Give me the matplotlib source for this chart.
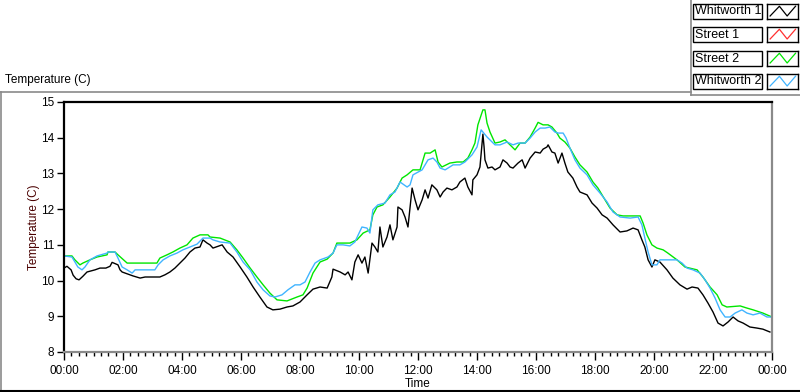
import matplotlib
matplotlib.use("Agg")
import matplotlib.pyplot as plt
from matplotlib.lines import Line2D
from matplotlib.patches import Rectangle
from matplotlib.ticker import MultipleLocator, FuncFormatter

plt.rcParams['font.family'] = ['Liberation Sans', 'DejaVu Sans']

# time in hours since midnight, temperature in C
whitworth1_t = [0.00, 0.10, 0.24, 0.31, 0.41, 0.51, 0.64, 0.78, 1.05, 1.22, 1.42, 1.56, 1.63, 1.83, 1.90,
                1.97, 2.17, 2.34, 2.58, 2.75, 3.08, 3.25, 3.42, 3.59, 3.76, 3.93, 4.10, 4.27, 4.44, 4.61,
                4.71, 4.85, 4.95, 5.05, 5.36, 5.53, 5.73, 5.97, 6.20, 6.41, 6.64, 6.88, 7.08, 7.32, 7.56,
                7.76, 8.00, 8.24, 8.44, 8.68, 8.92, 9.08, 9.12, 9.36, 9.53, 9.63, 9.76, 9.86, 9.97, 10.10,
                10.20, 10.31, 10.44, 10.54, 10.64, 10.71, 10.81, 10.95, 11.05, 11.15, 11.29, 11.32, 11.46,
                11.56, 11.66, 11.80, 11.90, 12.00, 12.14, 12.24, 12.34, 12.47, 12.64, 12.75, 12.85, 12.98,
                13.15, 13.32, 13.42, 13.59, 13.69, 13.83, 13.86, 14.00, 14.10, 14.20, 14.24, 14.27, 14.37,
                14.51, 14.61, 14.78, 14.88, 15.02, 15.12, 15.22, 15.39, 15.53, 15.63, 15.80, 15.97, 16.14,
                16.24, 16.37, 16.41, 16.54, 16.64, 16.75, 16.88, 16.98, 17.08, 17.25, 17.39, 17.49, 17.73,
                17.90, 18.07, 18.24, 18.41, 18.61, 18.85, 19.08, 19.29, 19.46, 19.59, 19.69, 19.80, 19.93,
                20.03, 20.20, 20.44, 20.64, 20.88, 21.12, 21.29, 21.49, 21.66, 21.83, 22.00, 22.17, 22.34,
                22.51, 22.68, 22.85, 23.02, 23.25, 23.49, 23.69, 23.93]
whitworth1_v = [10.35, 10.40, 10.30, 10.15, 10.05, 10.02, 10.12, 10.24, 10.30, 10.35, 10.35, 10.40, 10.51, 10.44, 10.30,
                10.24, 10.18, 10.13, 10.07, 10.10, 10.10, 10.10, 10.16, 10.24, 10.35, 10.49, 10.63, 10.80, 10.91, 10.94,
                11.14, 11.05, 11.00, 10.91, 11.00, 10.80, 10.66, 10.38, 10.10, 9.82, 9.54, 9.26, 9.18, 9.20, 9.26,
                9.29, 9.40, 9.60, 9.76, 9.82, 9.79, 10.10, 10.32, 10.24, 10.16, 10.24, 10.02, 10.52, 10.72, 10.49,
                10.66, 10.21, 11.05, 10.94, 10.80, 11.50, 10.94, 11.22, 11.56, 11.14, 11.50, 12.06, 11.98,
                11.78, 11.50, 12.59, 12.26, 11.98, 12.26, 12.54, 12.31, 12.68, 12.54, 12.34, 12.48, 12.59,
                12.54, 12.62, 12.76, 12.87, 12.62, 12.40, 12.82, 12.96, 13.18, 14.10, 13.74, 13.38, 13.15,
                13.18, 13.10, 13.18, 13.38, 13.29, 13.18, 13.15, 13.29, 13.38, 13.15, 13.43, 13.60, 13.57,
                13.68, 13.74, 13.80, 13.60, 13.57, 13.29, 13.57, 13.29, 13.04, 12.87, 12.62, 12.48, 12.40,
                12.17, 12.03, 11.84, 11.75, 11.56, 11.36, 11.39, 11.47, 11.42, 11.14, 10.94, 10.58, 10.38,
                10.58, 10.52, 10.30, 10.07, 9.88, 9.76, 9.82, 9.79, 9.60, 9.37, 9.12, 8.81, 8.73,
                8.84, 8.98, 8.87, 8.81, 8.70, 8.67, 8.64, 8.56]

street1_t = []
street1_v = []

street2_t = [0.00, 0.27, 0.37, 0.54, 0.64, 0.88, 1.12, 1.46, 1.49, 1.73, 1.83, 2.14, 3.15, 3.25, 3.49, 3.69,
             3.93, 4.17, 4.37, 4.61, 4.88, 4.95, 5.29, 5.63, 5.86, 6.07, 6.31, 6.54, 6.75, 6.98, 7.22,
             7.56, 7.90, 8.10, 8.24, 8.44, 8.68, 8.92, 9.12, 9.25, 9.46, 9.69, 9.93, 10.14, 10.37, 10.47,
             10.61, 10.81, 11.05, 11.29, 11.46, 11.63, 11.83, 12.07, 12.24, 12.41, 12.58, 12.68, 12.81,
             13.08, 13.32, 13.53, 13.69, 13.83, 13.93, 14.03, 14.20, 14.27, 14.34, 14.44, 14.61, 14.78,
             14.95, 15.12, 15.29, 15.46, 15.63, 15.80, 15.97, 16.07, 16.24, 16.41, 16.54, 16.71, 16.81,
             16.98, 17.15, 17.32, 17.49, 17.73, 17.93, 18.10, 18.34, 18.51, 18.75, 18.95, 19.53, 19.63,
             19.76, 19.93, 20.10, 20.31, 20.47, 20.78, 21.05, 21.46, 21.66, 21.90, 22.14, 22.31, 22.47,
             22.92, 23.15, 23.36, 23.69, 24.00]
street2_v = [10.69, 10.69, 10.58, 10.44, 10.49, 10.58, 10.66, 10.72, 10.80, 10.80, 10.72, 10.49, 10.49, 10.63, 10.72, 10.80,
             10.91, 11.00, 11.19, 11.28, 11.28, 11.22, 11.19, 11.08, 10.86, 10.63, 10.35, 10.10, 9.88, 9.65, 9.46,
             9.43, 9.54, 9.60, 9.79, 10.21, 10.52, 10.60, 10.77, 11.05, 11.05, 11.05, 11.14, 11.33, 11.42, 11.84,
             12.06, 12.12, 12.34, 12.59, 12.87, 12.96, 13.10, 13.10, 13.57, 13.57, 13.66, 13.32, 13.18,
             13.29, 13.32, 13.32, 13.43, 13.66, 13.85, 14.36, 14.78, 14.78, 14.41, 14.16, 13.85, 13.88,
             13.94, 13.80, 13.66, 13.85, 13.85, 14.02, 14.27, 14.43, 14.36, 14.36, 14.30, 14.13, 13.99,
             13.88, 13.71, 13.46, 13.24, 13.04, 12.76, 12.59, 12.26, 12.03, 11.84, 11.81, 11.81, 11.61,
             11.28, 11.00, 10.91, 10.86, 10.77, 10.58, 10.38, 10.30, 10.10, 9.82, 9.60, 9.32, 9.26,
             9.29, 9.23, 9.18, 9.09, 8.98]

whitworth2_t = [0.00, 0.27, 0.47, 0.61, 0.71, 0.88, 1.12, 1.46, 1.49, 1.73, 1.83, 1.97, 2.14, 2.31, 2.41,
                3.08, 3.19, 3.36, 3.59, 3.83, 4.03, 4.27, 4.51, 4.71, 4.95, 5.05, 5.29, 5.63, 5.86, 6.07,
                6.31, 6.54, 6.75, 6.98, 7.15, 7.39, 7.59, 7.83, 8.00, 8.17, 8.34, 8.51, 8.68, 8.95, 9.12,
                9.25, 9.46, 9.69, 9.86, 10.10, 10.27, 10.37, 10.47, 10.64, 10.88, 11.05, 11.22, 11.39,
                11.63, 11.73, 11.83, 12.14, 12.24, 12.34, 12.51, 12.64, 12.75, 12.92, 13.19, 13.42, 13.59,
                13.83, 14.00, 14.14, 14.20, 14.34, 14.44, 14.61, 14.78, 15.02, 15.22, 15.39, 15.63, 15.80,
                15.97, 16.14, 16.31, 16.47, 16.64, 16.75, 16.92, 17.02, 17.15, 17.32, 17.49, 17.73, 17.93,
                18.17, 18.41, 18.61, 18.85, 19.19, 19.46, 19.59, 19.69, 19.80, 19.93, 20.10, 20.20, 20.44,
                20.78, 20.95, 21.12, 21.32, 21.56, 21.73, 21.90, 22.07, 22.24, 22.41, 22.58, 22.75, 22.98,
                23.15, 23.36, 23.59, 23.83, 24.00]
whitworth2_v = [10.69, 10.66, 10.38, 10.30, 10.38, 10.58, 10.69, 10.77, 10.80, 10.80, 10.63, 10.38, 10.30, 10.21, 10.30,
                10.30, 10.44, 10.58, 10.69, 10.77, 10.86, 10.94, 11.02, 11.19, 11.19, 11.14, 11.08, 11.05, 10.80, 10.52,
                10.30, 9.96, 9.74, 9.57, 9.54, 9.60, 9.74, 9.88, 9.88, 9.96, 10.24, 10.49, 10.58, 10.66, 10.77,
                11.00, 11.00, 10.97, 11.08, 11.50, 11.47, 11.33, 11.98, 12.12, 12.17, 12.40, 12.48, 12.76,
                12.62, 12.68, 12.96, 13.10, 13.24, 13.38, 13.43, 13.32, 13.15, 13.10, 13.24, 13.24, 13.32,
                13.52, 13.74, 14.22, 14.16, 14.02, 13.94, 13.80, 13.80, 13.88, 13.80, 13.85, 13.85, 13.99,
                14.16, 14.27, 14.27, 14.30, 14.16, 14.13, 14.13, 13.99, 13.71, 13.38, 13.15, 12.96, 12.68,
                12.45, 12.20, 11.92, 11.78, 11.75, 11.78, 11.56, 11.19, 10.80, 10.44, 10.44, 10.58, 10.58,
                10.58, 10.49, 10.35, 10.30, 10.21, 10.02, 9.79, 9.51, 9.18, 8.98, 8.98, 9.09, 9.18,
                9.09, 9.04, 9.09, 8.98, 8.98]

series_names = ["Whitworth 1", "Street 1", "Street 2", "Whitworth 2"]
series_colors = ["#000000", "#ff3030", "#00e600", "#40b4ff"]

W, H = 800, 392
fig = plt.figure(figsize=(W / 100, H / 100), dpi=100)
fig.patch.set_facecolor("white")


def fx(px):
    return px / W


def fy(py):
    return 1 - py / H


ax = fig.add_axes([fx(64), fy(352), fx(708), 250 / H])
ax.plot(whitworth1_t, whitworth1_v, color=series_colors[0], lw=1)
ax.plot(street1_t, street1_v, color=series_colors[1], lw=1)
ax.plot(street2_t, street2_v, color=series_colors[2], lw=1)
ax.plot(whitworth2_t, whitworth2_v, color=series_colors[3], lw=1)

ax.set_xlim(0, 24)
ax.set_ylim(8, 15)
ax.xaxis.set_major_locator(MultipleLocator(2))
ax.xaxis.set_minor_locator(MultipleLocator(0.25))
ax.yaxis.set_major_locator(MultipleLocator(1))
ax.xaxis.set_major_formatter(FuncFormatter(lambda v, p: "%02d:00" % (int(round(v)) % 24)))
ax.tick_params(axis="x", which="major", length=6, width=1, labelsize=8.5, pad=3)
ax.tick_params(axis="x", which="minor", length=3, width=1)
ax.tick_params(axis="y", which="major", length=5, width=1, labelsize=8.5, pad=2)

for side in ["top", "left"]:
    ax.spines[side].set_color("black")
    ax.spines[side].set_linewidth(1.6)
for side in ["bottom", "right"]:
    ax.spines[side].set_color("#8a8a8a")
    ax.spines[side].set_linewidth(1.6)

ax.set_xlabel("Time", fontsize=8.5, labelpad=1)
ax.set_ylabel("Temperature (C)", fontsize=8.5, color="#4a0000")
ax.yaxis.set_label_coords(-0.034, 0.5)

# graph caption and outer frame
fig.text(fx(5), fy(80), "Temperature (C)", fontsize=8.5, va="center", ha="left")
fig.add_artist(Line2D([fx(0), fx(691)], [fy(92), fy(92)], color="#8a8a8a", lw=1.2))
fig.add_artist(Line2D([fx(0.8), fx(0.8)], [fy(92), fy(391)], color="#8a8a8a", lw=1.2))
fig.add_artist(Line2D([fx(0), fx(800)], [fy(391), fy(391)], color="black", lw=1.5))

# legend panel
fig.add_artist(Line2D([fx(691), fx(691)], [fy(0), fy(95)], color="#8a8a8a", lw=1.2))
fig.add_artist(Line2D([fx(691), fx(800)], [fy(95), fy(95)], color="#8a8a8a", lw=1.2))
row_tops = [4, 27, 51, 74]
for name, color, top in zip(series_names, series_colors, row_tops):
    fig.add_artist(Rectangle((fx(693), fy(top + 15)), fx(69), 15 / H, fill=False,
                             edgecolor="black", lw=1))
    fig.text(fx(695), fy(top + 7.5), name, fontsize=9, va="center", ha="left")
    sax = fig.add_axes([fx(767), fy(top + 15), fx(31), 15 / H])
    sax.plot([0.1, 0.4, 0.65, 0.92], [0.2, 0.85, 0.2, 0.85], color=color, lw=0.9)
    sax.set_xlim(0, 1)
    sax.set_ylim(0, 1)
    sax.set_xticks([])
    sax.set_yticks([])
    for s in sax.spines.values():
        s.set_linewidth(1)
        s.set_color("black")

fig.savefig("out.png", dpi=100, facecolor="white")
